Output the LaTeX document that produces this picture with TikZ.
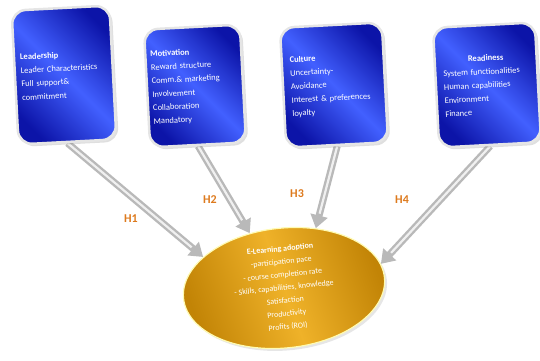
\documentclass[tikz,border=0pt]{standalone}
\usepackage{fontspec}
\setmainfont{Carlito}
\usepackage{tikz}
\usetikzlibrary{arrows.meta}
\usetikzlibrary{shapes}
\usetikzlibrary{backgrounds}
\usetikzlibrary{shadows}

\definecolor{boxdark}{HTML}{0C14A8}
\definecolor{boxshine}{HTML}{4260FF}
\definecolor{golddark}{HTML}{C28406}
\definecolor{goldlight}{HTML}{EFB229}
\definecolor{hypcolor}{HTML}{DD7A1E}

\begin{document}
\begin{tikzpicture}[x=1pt, y=-1pt]

\useasboundingbox (0,0) rectangle (540,360);

\def\BoxRound{14pt}
\def\TextWidth{86pt}

% Styles
\tikzstyle{factor} =
	[draw=gray!20, line width=2.5pt, rounded corners=\BoxRound,
	 top color=boxdark, bottom color=boxdark, middle color=boxshine,
	 shading angle=135, drop shadow={opacity=0.25},
	 text=white, align=left, text width=\TextWidth, rotate=3,
	 font=\fontsize{8.5}{13.5}\selectfont]

\tikzstyle{outcome} =
	[ellipse, draw=yellow!30, line width=1.2pt,
	 top color=golddark, bottom color=golddark, middle color=goldlight,
	 shading angle=110, drop shadow={opacity=0.2},
	 text=white, align=center, minimum width=202pt, minimum height=114pt,
	 inner sep=0pt, rotate=6, font=\fontsize{8}{13}\selectfont]

\tikzstyle{hyp} =
	[draw=gray!55, line width=7pt, -{Triangle[length=13pt, width=17pt]}]

\tikzstyle{hyp shine} =
	[draw=gray!12, line width=2.2pt, shorten >=15pt]

\tikzstyle{hyp label} =
	[text=hypcolor, font=\fontsize{12}{14}\selectfont\bfseries]

% Modules

\node (Leadership) at (64, 75)
	[factor, minimum width=98pt, minimum height=134pt]
	{\textbf{Leadership}\\ Leader Characteristics\\ Full support\&\\ commitment};

\node (Motivation) at (195, 86)
	[factor, minimum width=96pt, minimum height=118pt]
	{\textbf{Motivation}\\ Reward structure\\ Comm.\& marketing\\ Involvement\\ Collaboration\\ Mandatory};

\node (Culture) at (334, 85)
	[factor, minimum width=102pt, minimum height=120pt]
	{\textbf{Culture}\\ Uncertainty-\\ Avoidance\\ Interest \& preferences\\ loyalty};

\node (Readiness) at (487, 85)
	[factor, minimum width=102pt, minimum height=120pt]
	{\centering\textbf{Readiness}\par\raggedright System functionalities\\ Human capabilities\\ Environment\\ Finance};

\node (Adoption) at (284, 288)
	[outcome]
	{\textbf{E-Learning adoption}\\ -participation pace\\ - course completion rate\\ - Skills, capabilities, knowledge\\ Satisfaction\\ Productivity\\ Profits (ROI)};

% Edges

\begin{scope}[on background layer]
\draw[hyp] (Leadership.south) -- (Adoption.153);
\draw[hyp] (Motivation.south) -- (Adoption.116);
\draw[hyp] (Culture.south) -- (Adoption.56);
\draw[hyp] (Readiness.south) -- (Adoption.8);

\draw[hyp shine] (Leadership.south) -- (Adoption.153);
\draw[hyp shine] (Motivation.south) -- (Adoption.116);
\draw[hyp shine] (Culture.south) -- (Adoption.56);
\draw[hyp shine] (Readiness.south) -- (Adoption.8);
\end{scope}

\node (H1) at (131, 219) [hyp label] {H1};
\node (H2) at (210, 200) [hyp label] {H2};
\node (H3) at (297, 194) [hyp label] {H3};
\node (H4) at (402, 200) [hyp label] {H4};

\end{tikzpicture}
\end{document}
